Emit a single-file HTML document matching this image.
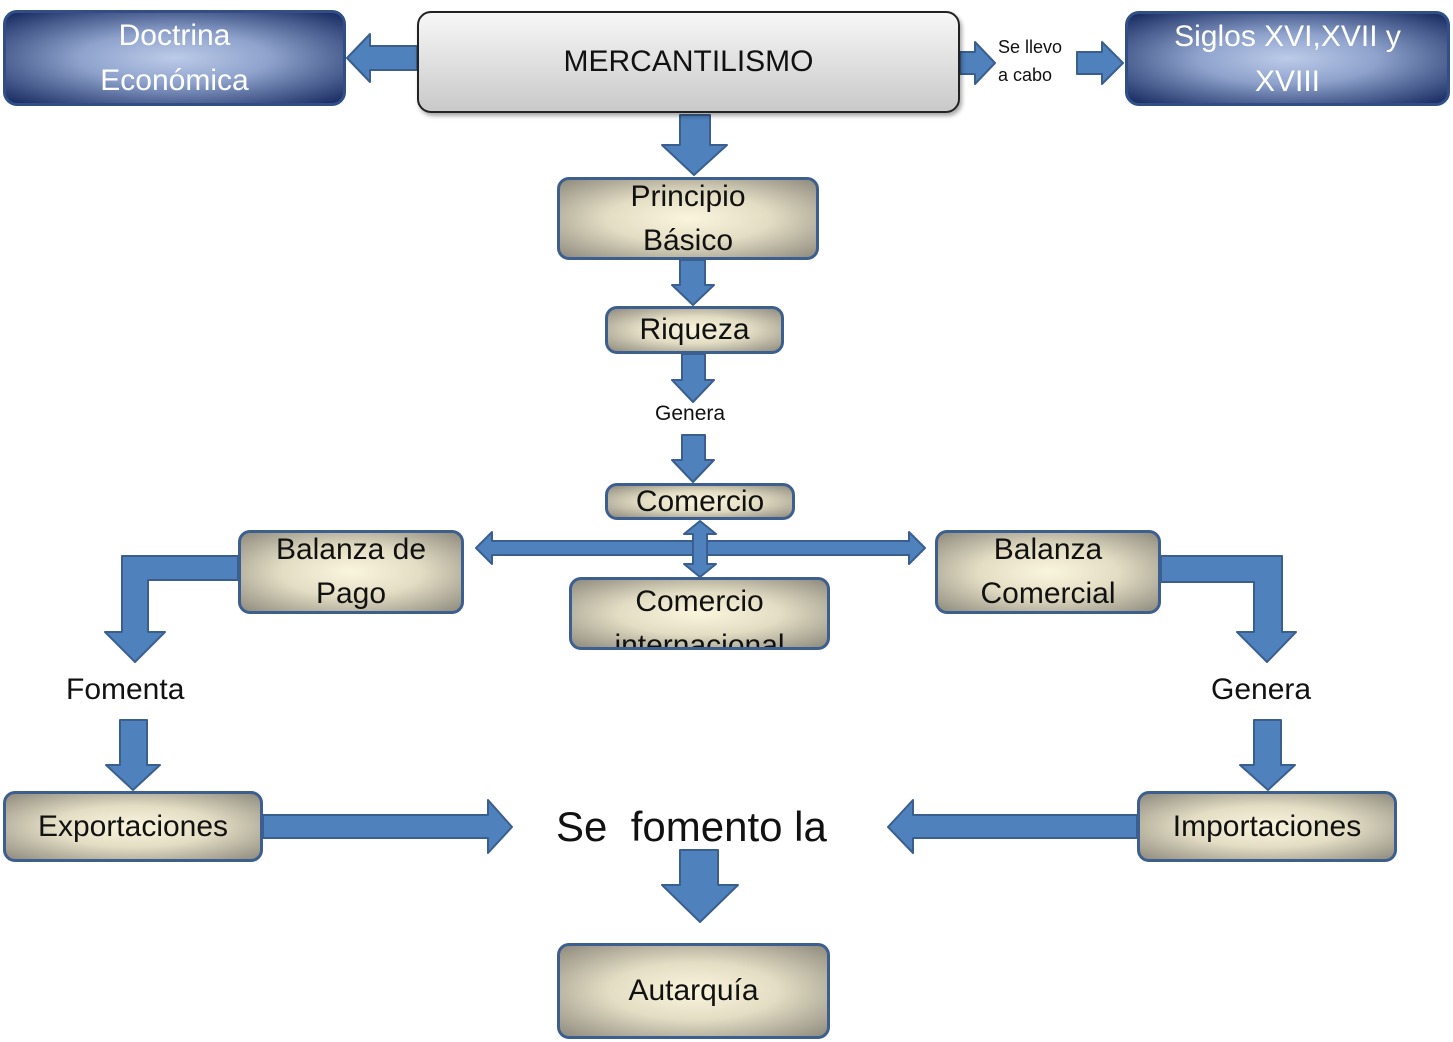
<!DOCTYPE html>
<html><head><meta charset="utf-8"><style>
body{margin:0;width:1453px;height:1042px;background:#fff;position:relative;overflow:hidden;font-family:"Liberation Sans",sans-serif}
.b{position:absolute;box-sizing:border-box;border:3px solid #3d5f8f;border-radius:12px;background:radial-gradient(ellipse at center,#faf5dd 0%,#e3ddc4 45%,#8f8b7e 100%);color:#111;text-align:center;display:flex;align-items:center;justify-content:center;font-size:30px;line-height:44px;overflow:hidden}
.bl{position:absolute;box-sizing:border-box;border:3px solid #2f4f86;border-radius:14px;background:radial-gradient(ellipse at center,#bccbe8 0%,#8ea2cc 40%,#14285f 100%);color:#fff;text-align:center;display:flex;align-items:center;justify-content:center;font-size:30px;line-height:45px}
.t{position:absolute;color:#111;white-space:nowrap}
svg{position:absolute;left:0;top:0}
</style></head><body>
<svg width="1453" height="1042">
<g fill="#4f81bd" stroke="#3a5f8f" stroke-width="2" stroke-linejoin="round">
<polygon points="417,46 370,46 370,34 347,58 370,82 370,70 417,70"/>
<polygon points="960,52 975,52 975,42 995,63 975,84 975,74 960,74"/>
<polygon points="1077,52 1102,52 1102,42 1123,63 1102,84 1102,74 1077,74"/>
<polygon points="680,115 710,115 710,145 727,145 694,175 662,145 680,145"/>
<polygon points="680,260 705,260 705,285 714,285 693,305 672,285 680,285"/>
<polygon points="682,354 705,354 705,380 714,380 693,402 672,380 682,380"/>
<polygon points="682,435 705,435 705,460 714,460 693,482 672,460 682,460"/>
<polygon points="476,548 492,532 492,541 909,541 909,532 925,548 909,564 909,555 492,555 492,564"/>
<polygon points="700,521 716,534 707,534 707,564 716,564 700,577 684,564 693,564 693,534 684,534"/>
<polygon points="238,556 238,580 148,580 148,632 165,632 135,662 105,632 122,632 122,556"/>
<polygon points="1161,556 1161,582 1254,582 1254,632 1237,632 1267,662 1296,632 1282,632 1282,556"/>
<polygon points="120,720 147,720 147,765 160,765 133,790 106,765 120,765"/>
<polygon points="1254,720 1281,720 1281,765 1295,765 1268,790 1240,765 1254,765"/>
<polygon points="263,815 488,815 488,800 512,827 488,853 488,838 263,838"/>
<polygon points="1137,815 913,815 913,800 888,827 913,853 913,838 1137,838"/>
<polygon points="680,850 718,850 718,885 738,885 700,922 662,885 680,885"/>
</g>
</svg>
<div class="bl" style="left:3px;top:10px;width:343px;height:96px">Doctrina<br>Económica</div>
<div style="position:absolute;left:417px;top:11px;width:543px;height:102px;box-sizing:border-box;border:2px solid #222;border-radius:14px;background:linear-gradient(#f7f7f7,#c9c9c9);box-shadow:2px 3px 4px rgba(0,0,0,.35);display:flex;align-items:center;justify-content:center;font-size:30px;color:#111">MERCANTILISMO</div>
<div class="t" style="left:998px;top:33px;font-size:18px;line-height:28px">Se llevo<br>a cabo</div>
<div class="bl" style="left:1125px;top:11px;width:325px;height:95px">Siglos XVI,XVII y<br>XVIII</div>
<div class="b" style="left:557px;top:177px;width:262px;height:83px">Principio<br>Básico</div>
<div class="b" style="left:605px;top:306px;width:179px;height:48px">Riqueza</div>
<div class="t" style="left:655px;top:402px;font-size:21px">Genera</div>
<div class="b" style="left:605px;top:483px;width:190px;height:37px">Comercio</div>
<div class="b" style="left:238px;top:530px;width:226px;height:84px">Balanza de<br>Pago</div>
<div class="b" style="left:569px;top:577px;width:261px;height:73px;align-items:flex-start;line-height:44px;padding-top:0">Comercio<br>internacional</div>
<div class="b" style="left:935px;top:530px;width:226px;height:84px">Balanza<br>Comercial</div>
<div class="t" style="left:66px;top:673px;font-size:30px">Fomenta</div>
<div class="t" style="left:1211px;top:673px;font-size:30px">Genera</div>
<div class="b" style="left:3px;top:791px;width:260px;height:71px">Exportaciones</div>
<div class="b" style="left:1137px;top:791px;width:260px;height:71px">Importaciones</div>
<div class="t" style="left:556px;top:803px;font-size:42px">Se&nbsp; fomento la</div>
<div class="b" style="left:557px;top:943px;width:273px;height:96px">Autarquía</div>
</body></html>
